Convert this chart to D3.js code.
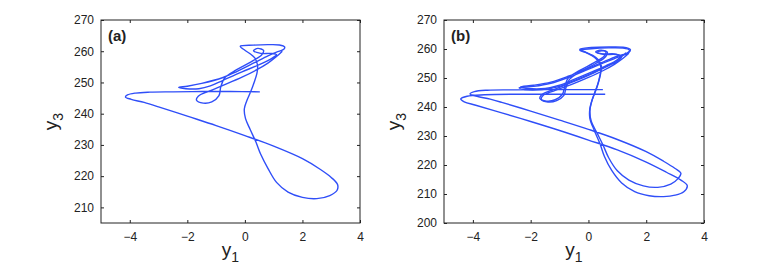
<!DOCTYPE html>
<html>
<head>
<meta charset="utf-8">
<script src="https://d3js.org/d3.v7.min.js"></script>
<style>
  body { margin: 0; background: #fff; }
  text { font-family: "Liberation Sans", Arial, Helvetica, sans-serif; fill: #222; }
</style>
</head>
<body>
<div class="canvas"></div>
<script>
// tick values
const xTicks = [-4, -2, 0, 2, 4];
const yTicksA = [210, 220, 230, 240, 250, 260, 270];
const yTicksB = [200, 210, 220, 230, 240, 250, 260, 270];

// panel (a): one trajectory, [y1, y3] pairs
const trajA = [
  [0.52,247.0],[-0.5,247.1],[-1.5,247.1],[-2.5,247.0],[-3.3,246.9],[-3.8,246.6],[-4.08,246.0],[-4.15,245.3],
  [-3.95,244.6],[-3.5,243.6],[-3.0,242.2],[-2.0,239.2],[-1.0,236.2],[0.0,233.0],[1.0,229.6],[2.0,225.6],
  [2.6,222.3],[3.0,219.6],[3.22,217.3],[3.2,215.4],[2.95,213.8],[2.5,212.8],[2.0,213.2],[1.5,214.9],
  [1.1,218.0],[0.8,222.5],[0.55,227.0],[0.38,231.0],[0.18,235.0],[0.02,238.5],[-0.02,241.5],[0.06,244.0],
  [0.2,247.0],[0.32,250.0],[0.42,253.0],[0.44,255.5],[0.35,257.8],[0.18,259.2],[0.0,260.3],[-0.16,261.6],
  [0.3,261.95],[0.8,262.1],[1.2,262.0],[1.38,261.4],[1.35,260.6],[1.1,259.7],[0.8,258.5],[0.35,256.4],
  [-0.3,253.4],[-0.76,251.6],[-1.5,249.7],[-2.0,248.8],[-2.3,248.4],[-2.05,248.0],[-1.6,248.0],[-1.2,248.9],
  [-0.76,250.7],[-0.1,253.4],[0.5,255.7],[0.95,257.8],[1.1,258.9],[0.9,259.3],[0.55,259.3],[0.3,260.2],
  [0.45,260.9],[0.65,260.2],[0.58,258.8],[0.2,256.5],[-0.3,254.0],[-0.7,251.5],[-0.84,248.5],[-0.9,245.8],
  [-1.15,243.8],[-1.45,243.4],[-1.68,244.3],[-1.62,245.6],[-1.25,247.2],[-0.7,249.3],[-0.1,251.7],
  [0.4,254.0],[0.8,256.2],[1.1,258.3],[1.3,260.0]
];

// panel (b): two laps of the trajectory
const trajB1 = [
  [0.5,246.0],[-1.0,246.0],[-2.5,245.9],[-3.5,245.8],[-3.95,245.3],[-4.1,244.5],[-3.9,243.8],[-3.4,242.7],
  [-3.0,241.6],[-2.0,238.6],[-1.0,235.5],[0.0,232.3],[1.0,228.8],[2.0,224.6],[2.6,221.3],[3.0,218.8],
  [3.2,217.2],[3.1,215.3],[2.85,213.4],[2.4,212.3],[1.9,212.8],[1.4,214.8],[1.0,218.0],[0.7,222.5],
  [0.5,227.0],[0.3,231.0],[0.1,235.0],[0.05,238.5],[0.1,241.5],[0.2,244.5],[0.33,248.0],[0.42,251.5],
  [0.42,254.2],[0.3,256.3],[0.1,257.8],[-0.1,258.8],[-0.3,259.6],[0.1,260.1],[0.7,260.4],[1.2,260.3],
  [1.42,259.6],[1.35,258.7],[1.0,257.5],[0.5,255.5],[-0.1,253.0],[-0.7,250.6],[-1.3,248.6],[-1.9,247.5],
  [-2.35,246.9],[-2.1,246.4],[-1.5,246.4],[-1.0,247.5],[-0.5,249.5],[0.1,252.0],[0.6,254.2],[1.0,256.3],
  [1.1,257.6],[0.9,258.3],[0.5,258.3],[0.25,259.0],[0.4,259.6],[0.6,259.1],[0.55,257.6],[0.2,255.3],
  [-0.3,252.6],[-0.7,250.0],[-0.82,247.0],[-0.9,244.4],[-1.15,242.5],[-1.45,242.0],[-1.68,242.9],
  [-1.62,244.2],[-1.2,246.0],[-0.7,248.0],[-0.1,250.5],[0.4,252.8],[0.8,255.0],[1.1,257.0],[1.3,258.7]
];
const trajB2 = [
  [0.58,244.4],[-1.0,244.4],[-2.5,244.4],[-3.6,244.2],[-4.2,243.7],[-4.42,242.8],[-4.3,241.8],[-3.9,240.6],
  [-3.0,238.0],[-2.0,235.0],[-1.0,231.9],[0.0,228.6],[1.0,225.2],[2.0,221.0],[2.7,217.5],[3.2,214.8],
  [3.42,212.9],[3.3,210.8],[3.0,209.6],[2.6,209.1],[2.1,209.4],[1.6,210.8],[1.15,213.8],[0.8,218.2],
  [0.55,223.0],[0.4,227.3],[0.2,232.0],[0.05,236.0],[0.05,239.5],[0.15,243.0],[0.3,247.0],[0.4,251.0],
  [0.45,254.0],[0.35,256.2],[0.15,257.8],[-0.1,258.9],[-0.3,259.9],[0.1,260.5],[0.7,260.7],[1.2,260.6],
  [1.45,259.8],[1.4,258.8],[1.05,257.3],[0.5,255.1],[-0.1,252.6],[-0.7,250.2],[-1.3,248.2],[-1.9,247.1],
  [-2.4,246.6],[-2.2,246.0],[-1.6,246.0],[-1.0,247.1],[-0.5,249.1],[0.1,251.6],[0.6,253.8],[1.0,255.9],
  [1.15,257.3],[0.95,258.1],[0.55,258.1],[0.3,258.8],[0.45,259.4],[0.65,258.9],[0.6,257.4],[0.25,255.0],
  [-0.25,252.3],[-0.65,249.6],[-0.78,246.6],[-0.85,244.0],[-1.1,242.2],[-1.4,241.7],[-1.63,242.6],
  [-1.58,243.9],[-1.15,245.7],[-0.6,247.7],[0.0,250.2],[0.5,252.5],[0.9,254.7],[1.2,256.8],[1.4,258.5]
];

const svg = d3.select('.canvas')
  .append('svg')
    .attr('width', 779)
    .attr('height', 273);

drawPanel(101, 360, [-5, 4], [205, 270], yTicksA, [trajA], '(a)');
drawPanel(444, 704, [-5, 4], [200, 270], yTicksB, [trajB1, trajB2], '(b)');

function drawPanel(left, right, xDom, yDom, yTicks, series, label) {
  const top = 20, bottom = 223;
  const x = d3.scaleLinear().domain(xDom).range([left, right]);
  const y = d3.scaleLinear().domain(yDom).range([bottom, top]);
  const g = svg.append('g');

  // curves
  const line = d3.line()
    .x(d => x(d[0]))
    .y(d => y(d[1]))
    .curve(d3.curveCatmullRom.alpha(0.5));

  g.selectAll('path.traj')
    .data(series)
    .enter()
    .append('path')
      .attr('class', 'traj')
      .attr('d', line)
      .attr('fill', 'none')
      .attr('stroke', '#2f4ef8')
      .attr('stroke-width', 1.4);

  // axes with inward ticks, MATLAB style
  const fmt = d3.format('d');
  const xAxis = d3.axisBottom(x).tickValues(xTicks).tickSizeInner(-3).tickSizeOuter(0).tickPadding(9).tickFormat(fmt);
  const yAxis = d3.axisLeft(y).tickValues(yTicks).tickSizeInner(-3).tickSizeOuter(0).tickPadding(7).tickFormat(fmt);
  const xTop = d3.axisTop(x).tickValues(xTicks).tickSizeInner(-3).tickSizeOuter(0).tickFormat('');
  const yRight = d3.axisRight(y).tickValues(yTicks).tickSizeInner(-3).tickSizeOuter(0).tickFormat('');

  g.append('g').attr('transform', `translate(0, ${bottom})`).call(xAxis);
  g.append('g').attr('transform', `translate(${left}, 0)`).call(yAxis);
  g.append('g').attr('transform', `translate(0, ${top})`).call(xTop);
  g.append('g').attr('transform', `translate(${right}, 0)`).call(yRight);

  g.selectAll('.domain').remove();
  g.selectAll('.tick line').attr('stroke', '#222');
  g.selectAll('.tick text')
    .style('font-size', '12px')
    .style('font-family', '"Liberation Sans", Arial, sans-serif')
    .attr('fill', '#222');

  g.append('rect')
    .attr('x', left)
    .attr('y', top)
    .attr('width', right - left)
    .attr('height', bottom - top)
    .attr('fill', 'none')
    .attr('stroke', '#222')
    .attr('stroke-width', 1);

  // panel label
  g.append('text')
    .attr('x', left + 7)
    .attr('y', top + 21)
    .style('font-size', '15px')
    .style('font-weight', 'bold')
    .text(label);

  // x label y1
  const xl = g.append('text')
    .attr('x', (left + right) / 2)
    .attr('y', 256)
    .attr('text-anchor', 'middle')
    .style('font-size', '19px');
  xl.append('tspan').text('y');
  xl.append('tspan').attr('dy', 6).style('font-size', '14px').text('1');

  // y label y3
  const yl = g.append('text')
    .attr('transform', `translate(${left - 44}, ${(top + bottom) / 2}) rotate(-90)`)
    .attr('text-anchor', 'middle')
    .style('font-size', '19px');
  yl.append('tspan').text('y');
  yl.append('tspan').attr('dy', 6).style('font-size', '14px').text('3');
}
</script>
</body>
</html>
